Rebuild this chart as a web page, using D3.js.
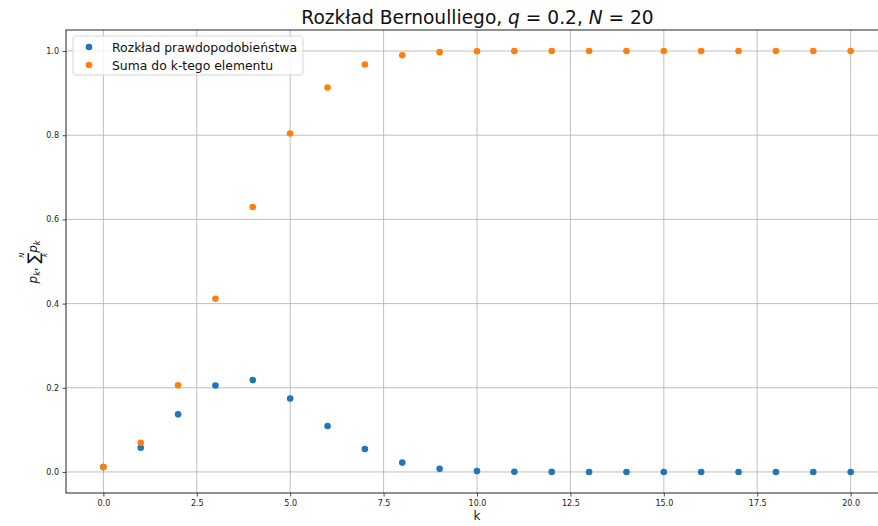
<!DOCTYPE html>
<html>
<head>
<meta charset="utf-8">
<script src="https://cdn.jsdelivr.net/npm/d3@7"></script>
<style>
  body { margin: 0; background: #fff; }
  text { font-family: "DejaVu Sans", sans-serif; }
</style>
</head>
<body>
<div id="chart"></div>
<script>
// Values
var ks = [0,1,2,3,4,5,6,7,8,9,10,11,12,13,14,15,16,17,18,19,20];
var probs = [0.0115,0.0576,0.1369,0.2054,0.2182,0.1746,0.1091,0.0545,0.0222,0.0074,0.0020,0.0005,0.0001,0,0,0,0,0,0,0,0];
var cumul = [0.0115,0.0692,0.2061,0.4114,0.6296,0.8042,0.9133,0.9679,0.9900,0.9974,0.9994,0.9999,1.0,1.0,1.0,1.0,1.0,1.0,1.0,1.0,1.0];
var xTicks = [0,2.5,5,7.5,10,12.5,15,17.5,20];
var yTicks = [0,0.2,0.4,0.6,0.8,1.0];
var seriesNames = ["Rozkład prawdopodobieństwa", "Suma do k-tego elementu"];
var colors = ["#1f77b4", "#ff7f0e"];

var width = 878, height = 526;
// plot area edges (right edge runs past the window like the reference)
var pLeft = 66, pRight = 888, pTop = 30, pBottom = 493;

var svg = d3.select("#chart").append("svg")
  .attr("width", width)
  .attr("height", height);

var x = d3.scaleLinear().domain([-1, 21]).range([pLeft, pRight]);
var y = d3.scaleLinear().domain([-0.05, 1.05]).range([pBottom, pTop]);

// grid
svg.append("g").selectAll("line").data(xTicks).enter().append("line")
  .attr("x1", d => x(d)).attr("x2", d => x(d))
  .attr("y1", pTop).attr("y2", pBottom)
  .attr("stroke", "#b0b0b0").attr("stroke-width", 0.8);
svg.append("g").selectAll("line").data(yTicks).enter().append("line")
  .attr("x1", pLeft).attr("x2", pRight)
  .attr("y1", d => y(d)).attr("y2", d => y(d))
  .attr("stroke", "#b0b0b0").attr("stroke-width", 0.8);

// axes
var xAxis = svg.append("g")
  .attr("transform", "translate(0," + pBottom + ")")
  .call(d3.axisBottom(x).tickValues(xTicks).tickFormat(d3.format(".1f")).tickSizeOuter(0).tickSize(3.5).tickPadding(3.5));
var yAxis = svg.append("g")
  .attr("transform", "translate(" + pLeft + ",0)")
  .call(d3.axisLeft(y).tickValues(yTicks).tickFormat(d3.format(".1f")).tickSizeOuter(0).tickSize(3.5).tickPadding(3.5));
[xAxis, yAxis].forEach(function(a) {
  a.select(".domain").remove();
  a.selectAll("text").attr("font-size", 8).attr("fill", "#222").style("font-family", "DejaVu Sans");
  a.selectAll("line").attr("stroke", "#222").attr("stroke-width", 0.8);
});

// frame
svg.append("rect")
  .attr("x", pLeft).attr("y", pTop)
  .attr("width", pRight - pLeft).attr("height", pBottom - pTop)
  .attr("fill", "none").attr("stroke", "#222").attr("stroke-width", 1);

// points
svg.append("g").selectAll("circle").data(ks).enter().append("circle")
  .attr("cx", d => x(d)).attr("cy", (d, i) => y(probs[i]))
  .attr("r", 3.3).attr("fill", colors[0]);
svg.append("g").selectAll("circle").data(ks).enter().append("circle")
  .attr("cx", d => x(d)).attr("cy", (d, i) => y(cumul[i]))
  .attr("r", 3.3).attr("fill", colors[1]);

// title
var title = svg.append("text")
  .attr("x", 477.5).attr("y", 24)
  .attr("text-anchor", "middle").attr("font-size", 18.6).attr("fill", "#111");
title.append("tspan").text("Rozkład Bernoulliego, ");
title.append("tspan").attr("font-style", "italic").text("q");
title.append("tspan").text(" = 0.2, ");
title.append("tspan").attr("font-style", "italic").text("N");
title.append("tspan").text(" = 20");

// x label
svg.append("text")
  .attr("x", 477).attr("y", 520)
  .attr("text-anchor", "middle").attr("font-size", 12).attr("fill", "#111")
  .text("k");

// y label (math)
var yl = svg.append("g").attr("transform", "translate(37,262) rotate(-90)");
var t = yl.append("text").attr("text-anchor", "middle").attr("font-size", 12).attr("fill", "#111");
t.append("tspan").attr("font-style", "italic").text("p");
t.append("tspan").attr("font-size", 8).attr("font-style", "italic").attr("dy", 3).text("k");
t.append("tspan").attr("dy", -3).text(", ");
t.append("tspan").attr("font-size", 16).attr("dy", 2).text("∑");
t.append("tspan").attr("font-style", "italic").attr("dy", -2).text("p");
t.append("tspan").attr("font-size", 8).attr("font-style", "italic").attr("dy", 3).text("k");
yl.append("text").attr("x", 7).attr("y", -13).attr("font-size", 7).attr("font-style", "italic")
  .attr("text-anchor", "middle").attr("fill", "#111").text("N");
yl.append("text").attr("x", 7).attr("y", 10).attr("font-size", 7).attr("font-style", "italic")
  .attr("text-anchor", "middle").attr("fill", "#111").text("k");

// legend
var lg = svg.append("g");
lg.append("rect")
  .attr("x", 73).attr("y", 36).attr("width", 230).attr("height", 39).attr("rx", 3)
  .attr("fill", "#fff").attr("fill-opacity", 0.8).attr("stroke", "#ccc").attr("stroke-width", 0.8);
seriesNames.forEach(function(name, i) {
  lg.append("circle").attr("cx", 89).attr("cy", 47 + i * 18).attr("r", 3.3).attr("fill", colors[i]);
  lg.append("text").attr("x", 112).attr("y", 51.5 + i * 18)
    .attr("font-size", 12.4).attr("fill", "#111").text(name);
});
</script>
</body>
</html>
